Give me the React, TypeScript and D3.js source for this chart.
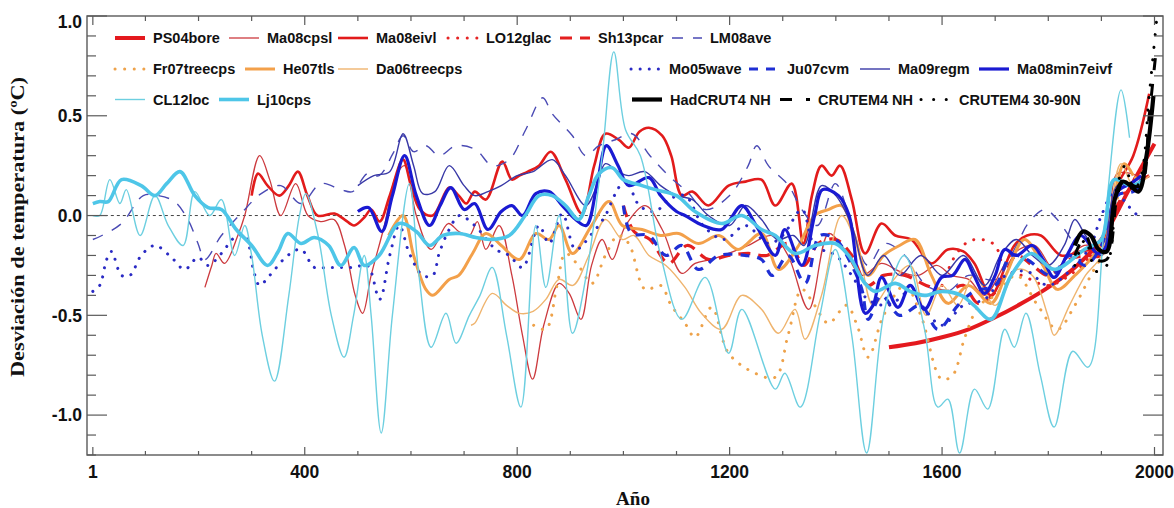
import * as d3 from "d3";

type Pt = [number, number];

// year, temperature anomaly (ºC)
const PS04bore: Pt[] = [
  [1500, -0.66], [1550, -0.64], [1600, -0.61], [1650, -0.57], [1700, -0.51], [1750, -0.44],
  [1800, -0.36], [1850, -0.26], [1900, -0.12], [1950, 0.12], [2000, 0.36],
];

const Ma08cpsl: Pt[] = [
  [212, -0.36], [225, -0.25], [233, -0.19], [249, -0.24], [274, -0.1], [287, 0.0], [315, 0.3],
  [334, 0.18], [355, 0.0], [383, 0.16], [406, 0.0], [430, -0.03], [455, -0.02], [475, -0.15],
  [495, -0.4], [509, -0.49], [525, -0.3], [550, -0.05], [572, 0.2], [588, 0.25], [610, 0.0],
  [638, -0.17], [670, -0.04], [690, -0.08], [710, -0.1], [725, -0.03], [741, -0.17], [766, -0.05],
  [790, -0.3], [810, -0.6], [829, -0.82], [850, -0.55], [879, -0.34], [898, -0.39], [920, -0.52],
  [940, -0.25], [960, -0.12], [979, -0.22], [1004, -0.05], [1041, 0.05], [1073, -0.07],
  [1110, -0.29], [1135, -0.24], [1165, -0.22], [1198, -0.19], [1235, -0.15], [1280, -0.1],
  [1310, -0.2], [1349, -0.47], [1386, -0.09], [1411, -0.15], [1449, -0.3], [1486, -0.24],
  [1520, -0.28], [1555, -0.3], [1590, -0.25], [1618, -0.3], [1650, -0.32], [1680, -0.4],
  [1730, -0.2], [1774, -0.15], [1811, -0.27], [1840, -0.2], [1868, -0.15], [1906, -0.15],
  [1930, 0.21], [1968, 0.2],
];

const Ma08eivl: Pt[] = [
  [300, 0.1], [312, 0.21], [330, 0.15], [352, 0.1], [370, 0.15], [387, 0.22], [405, 0.1],
  [424, 0.0], [456, 0.01], [475, -0.02], [493, -0.05], [512, -0.01], [525, 0.03], [541, -0.03],
  [560, 0.1], [585, 0.28], [600, 0.15], [617, 0.03], [641, 0.0], [672, 0.14], [690, 0.1],
  [704, 0.06], [720, 0.12], [741, 0.08], [772, 0.27], [790, 0.18], [804, 0.2], [820, 0.22],
  [841, 0.25], [863, 0.32], [891, 0.18], [922, 0.01], [945, 0.25], [966, 0.41], [991, 0.38],
  [1010, 0.34], [1030, 0.42], [1048, 0.44], [1073, 0.4], [1090, 0.3], [1110, 0.1], [1130, 0.12],
  [1160, 0.05], [1198, 0.15], [1230, 0.17], [1260, 0.18], [1286, 0.05], [1317, 0.16],
  [1339, -0.14], [1355, 0.1], [1373, 0.25], [1392, 0.2], [1408, 0.25], [1430, 0.08],
  [1455, -0.19], [1486, -0.04], [1512, -0.1], [1542, -0.12], [1580, -0.24], [1611, -0.17],
  [1640, -0.18], [1661, -0.24], [1692, -0.4], [1736, -0.15], [1760, -0.1], [1786, -0.1],
  [1824, -0.2], [1860, -0.18], [1899, -0.15], [1930, 0.15], [1960, 0.3], [1990, 0.61],
];

const LO12glac: Pt[] = [
  [1600, -0.35], [1625, -0.2], [1650, -0.13], [1675, -0.12], [1700, -0.15], [1720, -0.28],
  [1750, -0.3], [1800, -0.35], [1850, -0.28], [1880, -0.2], [1910, -0.1], [1940, 0.1],
  [1970, 0.2], [1990, 0.25],
];

const Sh13pcar: Pt[] = [
  [1000, 0.05], [1020, -0.08], [1050, -0.12], [1085, -0.24], [1120, -0.15], [1160, -0.22],
  [1198, -0.2], [1235, -0.19], [1270, -0.2], [1311, -0.14], [1340, -0.25], [1367, -0.14],
  [1400, -0.12], [1430, -0.2], [1460, -0.35], [1490, -0.3], [1530, -0.3], [1570, -0.35],
  [1610, -0.38], [1640, -0.35], [1668, -0.44], [1705, -0.37], [1740, -0.2], [1770, -0.25],
  [1800, -0.3], [1840, -0.22], [1870, -0.2], [1900, -0.2], [1930, 0.05], [1960, 0.15],
  [1990, 0.2],
];

const LM08ave: Pt[] = [
  [1, -0.12], [18, -0.1], [55, -0.04], [96, 0.1], [124, 0.1], [155, 0.07], [180, -0.02],
  [199, -0.14], [212, -0.22], [243, -0.1], [280, 0.01], [318, 0.11], [355, 0.15], [393, 0.06],
  [430, 0.16], [468, 0.13], [490, 0.12], [518, 0.21], [540, 0.2], [566, 0.31], [585, 0.4],
  [605, 0.32], [628, 0.35], [653, 0.3], [685, 0.35], [722, 0.33], [753, 0.25], [785, 0.28],
  [816, 0.43], [848, 0.59], [866, 0.51], [904, 0.4], [929, 0.3], [954, 0.35], [985, 0.38],
  [1016, 0.41], [1050, 0.3], [1085, 0.2], [1120, 0.12], [1154, 0.03], [1200, 0.1], [1235, 0.25],
  [1251, 0.35], [1273, 0.25], [1311, 0.15], [1336, 0.03], [1365, -0.05], [1399, 0.16],
  [1425, 0.0], [1460, -0.25], [1492, -0.14], [1530, -0.2], [1570, -0.35], [1610, -0.38],
  [1650, -0.3], [1700, -0.32], [1740, -0.15], [1762, -0.04], [1793, 0.03], [1817, -0.02],
  [1850, -0.15],
];

const Fr07treecps: Pt[] = [
  [831, -0.55], [854, -0.57], [875, -0.35], [891, -0.19], [915, -0.25], [941, -0.34],
  [966, -0.2], [990, -0.1], [1010, -0.14], [1041, -0.37], [1070, -0.35], [1090, -0.45],
  [1116, -0.54], [1135, -0.61], [1166, -0.46], [1198, -0.69], [1248, -0.79], [1286, -0.81],
  [1310, -0.6], [1336, -0.37], [1360, -0.45], [1386, -0.54], [1420, -0.45], [1440, -0.55],
  [1461, -0.71], [1490, -0.5], [1530, -0.35], [1560, -0.5], [1599, -0.82], [1620, -0.8],
  [1643, -0.61], [1670, -0.45], [1700, -0.4], [1740, -0.3], [1780, -0.45], [1817, -0.57],
  [1850, -0.45], [1880, -0.3], [1910, -0.15], [1940, 0.15], [1970, 0.2], [1990, 0.25],
];

const He07tls: Pt[] = [
  [558, -0.1], [585, 0.0], [605, -0.2], [628, -0.37], [641, -0.4], [672, -0.32], [690, -0.3],
  [716, -0.19], [741, -0.09], [770, -0.15], [804, -0.22], [835, -0.09], [860, -0.12],
  [879, -0.05], [904, -0.19], [940, -0.05], [973, 0.07], [998, -0.05], [1035, -0.07],
  [1070, -0.1], [1104, -0.09], [1141, -0.14], [1180, -0.1], [1216, -0.17], [1260, -0.09],
  [1292, -0.27], [1330, -0.15], [1360, 0.0], [1386, 0.03], [1411, 0.05], [1435, -0.1],
  [1461, -0.3], [1490, -0.2], [1520, -0.15], [1549, -0.12], [1580, -0.3], [1611, -0.44],
  [1650, -0.35], [1692, -0.44], [1720, -0.3], [1755, -0.12], [1790, -0.25], [1817, -0.37],
  [1850, -0.3], [1893, -0.17], [1920, 0.05], [1943, 0.26], [1960, 0.2],
];

const Da06treecps: Pt[] = [
  [713, -0.55], [720, -0.54], [753, -0.39], [780, -0.45], [804, -0.49], [830, -0.48],
  [854, -0.42], [879, -0.32], [905, -0.35], [935, -0.2], [966, -0.02], [998, -0.12],
  [1020, -0.1], [1048, -0.2], [1080, -0.25], [1116, -0.36], [1147, -0.49], [1185, -0.57],
  [1223, -0.4], [1260, -0.47], [1292, -0.59], [1323, -0.47], [1342, -0.62], [1373, -0.4],
  [1411, 0.0], [1442, -0.17], [1470, -0.45], [1500, -0.35], [1540, -0.25], [1570, -0.5],
  [1600, -0.35], [1630, -0.45], [1660, -0.3], [1700, -0.45], [1742, -0.27], [1770, -0.3],
  [1799, -0.5], [1811, -0.6], [1840, -0.45], [1870, -0.3], [1900, -0.2], [1937, 0.26],
  [1960, 0.15], [1990, 0.2],
];

const Mo05wave: Pt[] = [
  [1, -0.38], [14, -0.35], [27, -0.22], [36, -0.18], [55, -0.3], [71, -0.3], [92, -0.2],
  [118, -0.15], [149, -0.21], [174, -0.27], [199, -0.21], [218, -0.25], [243, -0.19],
  [268, -0.11], [287, -0.1], [305, -0.29], [315, -0.35], [334, -0.3], [368, -0.2], [393, -0.17],
  [418, -0.26], [443, -0.26], [468, -0.26], [493, -0.26], [518, -0.25], [541, -0.42],
  [560, -0.2], [578, -0.05], [597, -0.19], [622, -0.3], [641, -0.3], [653, -0.19], [672, -0.07],
  [691, 0.0], [720, -0.05], [760, -0.17], [785, -0.2], [810, -0.26], [841, -0.05], [860, -0.14],
  [885, 0.01], [910, -0.17], [941, -0.09], [966, 0.0], [985, 0.11], [1004, 0.18], [1030, 0.05],
  [1060, 0.02], [1085, 0.08], [1116, 0.1], [1150, -0.05], [1190, -0.12], [1230, -0.05],
  [1273, -0.14], [1300, -0.1], [1336, 0.03], [1360, -0.15], [1400, -0.2], [1430, -0.3],
  [1460, -0.42], [1500, -0.45], [1540, -0.38], [1570, -0.48], [1600, -0.55], [1640, -0.45],
  [1680, -0.42], [1720, -0.3], [1760, -0.28], [1800, -0.35], [1850, -0.25], [1880, -0.15],
  [1900, 0.0], [1925, 0.12], [1950, 0.05], [1975, -0.02],
];

const Ju07cvm: Pt[] = [
  [1000, 0.05], [1015, -0.09], [1048, -0.1], [1080, -0.2], [1110, -0.15], [1141, -0.27],
  [1180, -0.2], [1229, -0.2], [1260, -0.22], [1280, -0.3], [1310, -0.2], [1342, -0.34],
  [1370, -0.1], [1400, -0.12], [1430, -0.25], [1449, -0.37], [1461, -0.52], [1486, -0.4],
  [1520, -0.5], [1560, -0.45], [1592, -0.57], [1630, -0.45], [1660, -0.38], [1700, -0.35],
  [1730, -0.2], [1760, -0.22], [1805, -0.3], [1840, -0.2], [1870, -0.25], [1900, -0.15],
  [1930, 0.1], [1960, 0.12], [1980, 0.15],
];

const Ma09regm: Pt[] = [
  [500, 0.15], [530, 0.2], [560, 0.22], [585, 0.41], [605, 0.25], [622, 0.11], [645, 0.12],
  [672, 0.25], [700, 0.15], [720, 0.1], [745, 0.12], [770, 0.15], [800, 0.2], [830, 0.22],
  [866, 0.28], [891, 0.2], [929, 0.05], [950, 0.15], [966, 0.26], [990, 0.22], [1010, 0.2],
  [1040, 0.22], [1070, 0.15], [1100, 0.1], [1130, 0.08], [1160, 0.0], [1200, -0.05],
  [1230, 0.05], [1260, -0.02], [1290, -0.12], [1320, -0.1], [1340, -0.15], [1373, 0.15],
  [1400, 0.1], [1430, -0.05], [1460, -0.3], [1490, -0.2], [1520, -0.3], [1560, -0.2],
  [1600, -0.3], [1640, -0.2], [1680, -0.35], [1710, -0.2], [1740, -0.12], [1770, -0.2],
  [1800, -0.25], [1830, -0.15], [1850, -0.02], [1870, -0.1], [1900, -0.2], [1930, 0.15],
  [1960, 0.15], [1980, 0.2],
];

const Ma08min7eivf: Pt[] = [
  [500, 0.02], [520, 0.04], [545, -0.08], [565, 0.1], [588, 0.3], [610, 0.1], [635, -0.05],
  [655, 0.05], [675, 0.14], [700, 0.03], [720, 0.06], [745, -0.07], [770, 0.02], [790, 0.05],
  [810, 0.0], [835, 0.11], [860, 0.12], [885, 0.05], [910, -0.02], [930, -0.05], [950, 0.15],
  [968, 0.35], [990, 0.25], [1010, 0.15], [1048, 0.19], [1070, 0.1], [1100, 0.02], [1116, 0.0],
  [1150, -0.05], [1185, -0.07], [1223, 0.05], [1250, -0.05], [1286, -0.2], [1304, -0.07],
  [1336, -0.25], [1360, 0.0], [1375, 0.13], [1405, 0.1], [1425, 0.0], [1455, -0.49],
  [1470, -0.45], [1486, -0.31], [1517, -0.46], [1540, -0.35], [1567, -0.47], [1599, -0.31],
  [1620, -0.3], [1643, -0.22], [1660, -0.3], [1680, -0.39], [1700, -0.3], [1718, -0.17],
  [1740, -0.2], [1770, -0.15], [1790, -0.22], [1811, -0.31], [1835, -0.2], [1861, -0.1],
  [1893, -0.19], [1910, -0.15], [1930, 0.12], [1955, 0.16], [1975, 0.2],
];

const CL12loc: Pt[] = [
  [1, 0.0], [14, 0.0], [33, 0.18], [52, 0.06], [64, 0.13], [90, -0.1], [118, 0.1], [143, -0.05],
  [171, -0.15], [193, 0.12], [221, 0.0], [243, 0.08], [268, -0.2], [287, -0.05], [300, -0.2],
  [320, -0.6], [343, -0.83], [370, -0.4], [390, 0.0], [402, 0.11], [425, -0.1], [450, -0.5],
  [474, -0.71], [492, -0.5], [512, -0.2], [525, -0.5], [544, -1.09], [565, -0.5], [597, 0.16],
  [615, -0.3], [638, -0.66], [666, -0.49], [685, -0.64], [710, -0.5], [730, -0.4], [753, -0.26],
  [780, -0.6], [807, -0.96], [835, -0.05], [854, -0.36], [879, 0.0], [904, -0.59], [930, -0.3],
  [960, 0.3], [982, 0.82], [1004, 0.43], [1032, 0.3], [1070, -0.2], [1110, -0.52],
  [1154, -0.31], [1198, -0.69], [1223, -0.47], [1286, -0.87], [1304, -0.79], [1333, -0.96],
  [1370, -0.5], [1399, -0.17], [1430, -0.6], [1458, -1.19], [1492, -0.47], [1529, -0.2],
  [1567, -0.57], [1592, -0.96], [1611, -0.92], [1633, -1.19], [1661, -0.87], [1686, -0.97],
  [1718, -0.57], [1736, -0.66], [1758, -0.49], [1785, -0.8], [1811, -1.06], [1846, -0.68],
  [1875, -0.76], [1906, -0.04], [1937, 0.63], [1953, 0.39],
];

const Lj10cps: Pt[] = [
  [1, 0.06], [14, 0.07], [30, 0.07], [55, 0.18], [92, 0.15], [118, 0.1], [140, 0.16],
  [165, 0.22], [193, 0.1], [218, 0.04], [243, 0.03], [271, -0.07], [300, -0.15], [330, -0.25],
  [350, -0.18], [368, -0.09], [393, -0.14], [418, -0.11], [445, -0.15], [468, -0.25],
  [493, -0.16], [512, -0.25], [540, -0.2], [578, -0.04], [610, -0.08], [635, -0.15],
  [660, -0.1], [691, -0.09], [722, -0.11], [750, -0.12], [785, -0.1], [815, 0.0], [841, 0.1],
  [866, 0.1], [891, 0.05], [916, -0.02], [935, 0.1], [954, 0.21], [979, 0.24], [1000, 0.18],
  [1035, 0.15], [1060, 0.13], [1100, 0.1], [1135, 0.02], [1185, -0.04], [1223, 0.0],
  [1260, -0.07], [1286, -0.1], [1323, -0.19], [1361, -0.15], [1399, -0.14], [1424, -0.2],
  [1455, -0.34], [1474, -0.38], [1512, -0.34], [1540, -0.38], [1567, -0.4], [1600, -0.38],
  [1636, -0.4], [1660, -0.45], [1692, -0.52], [1730, -0.3], [1768, -0.19], [1811, -0.27],
  [1868, -0.17], [1900, -0.12], [1924, 0.18], [1955, 0.15], [1980, 0.18],
];

const HadCRUT4NH: Pt[] = [
  [1850, -0.15], [1865, -0.08], [1880, -0.1], [1895, -0.17], [1910, -0.18], [1925, 0.08],
  [1940, 0.17], [1955, 0.15], [1970, 0.12], [1985, 0.3], [1998, 0.6],
];

const CRUTEM4NH: Pt[] = [
  [1850, -0.2], [1870, -0.1], [1890, -0.22], [1910, -0.22], [1930, 0.1], [1945, 0.2],
  [1960, 0.15], [1975, 0.15], [1990, 0.5], [2002, 0.8],
];

const CRUTEM430_90N: Pt[] = [
  [1850, -0.25], [1870, -0.12], [1890, -0.28], [1910, -0.25], [1930, 0.15], [1945, 0.25],
  [1960, 0.12], [1975, 0.2], [1990, 0.6], [2004, 0.98],
];

const xTickLabels = [1, 400, 800, 1200, 1600, 2000];
const yTickLabels = [-1.0, -0.5, 0.0, 0.5, 1.0];

type Series = {
  name: string;
  data: Pt[];
  color: string;
  width: number;
  dash?: string;
  row: number;
  tx: number;
};

const DOT = (gap: number) => `0.1,${gap}`;

const series: Series[] = [
  { name: "PS04bore", data: PS04bore, color: "#e4191e", width: 4, row: 0, tx: 153 },
  { name: "Ma08cpsl", data: Ma08cpsl, color: "#cc3a3e", width: 1.3, row: 0, tx: 267 },
  { name: "Ma08eivl", data: Ma08eivl, color: "#e21b1b", width: 2.6, row: 0, tx: 376 },
  { name: "LO12glac", data: LO12glac, color: "#e52424", width: 3, dash: DOT(9.5), row: 0, tx: 486 },
  { name: "Sh13pcar", data: Sh13pcar, color: "#e41f1f", width: 3.2, dash: "12,8", row: 0, tx: 598 },
  { name: "LM08ave", data: LM08ave, color: "#4a4ab4", width: 1.4, dash: "11,10", row: 0, tx: 710 },
  { name: "Fr07treecps", data: Fr07treecps, color: "#eea24a", width: 3, dash: DOT(9.5), row: 1, tx: 153 },
  { name: "He07tls", data: He07tls, color: "#f3a04a", width: 3, row: 1, tx: 283 },
  { name: "Da06treecps", data: Da06treecps, color: "#efb46e", width: 1.4, row: 1, tx: 376 },
  { name: "Mo05wave", data: Mo05wave, color: "#2a2ac4", width: 3, dash: DOT(9), row: 1, tx: 669 },
  { name: "Ju07cvm", data: Ju07cvm, color: "#1f2fd4", width: 3.2, dash: "9,8", row: 1, tx: 787 },
  { name: "Ma09regm", data: Ma09regm, color: "#3838a6", width: 1.4, row: 1, tx: 898 },
  { name: "Ma08min7eivf", data: Ma08min7eivf, color: "#1a1ad2", width: 3.2, row: 1, tx: 1017 },
  { name: "CL12loc", data: CL12loc, color: "#6dcfe0", width: 1.4, row: 2, tx: 153 },
  { name: "Lj10cps", data: Lj10cps, color: "#4ec6e8", width: 3.6, row: 2, tx: 257 },
  { name: "HadCRUT4 NH", data: HadCRUT4NH, color: "#000000", width: 4.2, row: 2, tx: 670 },
  { name: "CRUTEM4 NH", data: CRUTEM4NH, color: "#000000", width: 3, dash: "12,14", row: 2, tx: 818 },
  { name: "CRUTEM4 30-90N", data: CRUTEM430_90N, color: "#000000", width: 3, dash: DOT(12.5), row: 2, tx: 959 },
];

const rowY = [38, 69, 99.5];
const sans = "'Liberation Sans', Arial, Helvetica, sans-serif";
const serif = "'Liberation Serif', 'Times New Roman', serif";
const axisColor = "#5a5a5a";

export default function App() {
  const x = d3.scaleLinear().domain([-10, 2016]).range([87, 1163]);
  const y = d3.scaleLinear().domain([-1.2, 1.0]).range([455, 16]);
  const [x0, x1] = x.range();
  const [y0, y1] = y.range();

  const line = d3
    .line<Pt>()
    .x((d) => x(d[0]))
    .y((d) => y(d[1]))
    .curve(d3.curveCatmullRom.alpha(0.5));

  const xMinor = d3.range(100, 2000, 100).filter((t) => t % 400 !== 0);
  const yTicks = d3.range(-12, 11).map((i) => i / 10);

  return (
    <div style={{ position: "absolute", left: 0, top: 0 }}>
      <svg width={1174} height={508} style={{ display: "block", background: "#fff" }}>
        <defs>
          <clipPath id="plot">
            <rect x={x0} y={y1} width={x1 - x0} height={y0 - y1} />
          </clipPath>
        </defs>

        {/* zero line */}
        <line x1={x(1)} x2={x1 - 3} y1={y(0)} y2={y(0)} stroke="#444" strokeWidth={1} strokeDasharray="3,3" />

        <g clipPath="url(#plot)" fill="none" strokeLinejoin="round">
          {series.map((s) => (
            <path
              key={s.name}
              d={line(s.data) ?? ""}
              stroke={s.color}
              strokeWidth={s.width}
              strokeDasharray={s.dash}
              strokeLinecap={s.dash && s.dash.startsWith("0.1") ? "round" : "butt"}
            />
          ))}
        </g>

        {/* frame */}
        <rect x={x0} y={y1} width={x1 - x0} height={y0 - y1} fill="none" stroke={axisColor} strokeWidth={1.4} />

        {/* x ticks */}
        {xMinor.map((t) => (
          <g key={"xm" + t} stroke={axisColor} strokeWidth={1.2}>
            <line x1={x(t)} x2={x(t)} y1={y0} y2={y0 - 4} />
            <line x1={x(t)} x2={x(t)} y1={y1} y2={y1 + 5} />
          </g>
        ))}
        {xTickLabels.map((t) => (
          <g key={"xM" + t}>
            <line x1={x(t)} x2={x(t)} y1={y0} y2={y0 - 8} stroke={axisColor} strokeWidth={1.2} />
            <line x1={x(t)} x2={x(t)} y1={y1} y2={y1 + 9} stroke={axisColor} strokeWidth={1.2} />
            <text x={x(t)} y={478} textAnchor="middle" fontFamily={sans} fontWeight="bold" fontSize={17.5} fill="#111">
              {t}
            </text>
          </g>
        ))}

        {/* y ticks */}
        {yTicks.map((t) => {
          const major = Math.abs(Math.round(t * 10)) % 5 === 0;
          const len = major ? 20 : 9;
          return (
            <g key={"y" + t} stroke={axisColor} strokeWidth={1.2}>
              <line x1={x0} x2={x0 + len} y1={y(t)} y2={y(t)} />
              <line x1={x1} x2={x1 - len} y1={y(t)} y2={y(t)} />
            </g>
          );
        })}
        {yTickLabels.map((t) => (
          <text
            key={"yl" + t}
            x={82}
            y={y(t) + (t === 1 ? 6 : 0)}
            dy="0.36em"
            textAnchor="end"
            fontFamily={sans}
            fontWeight="bold"
            fontSize={17.5}
            fill="#111"
          >
            {t.toFixed(1)}
          </text>
        ))}

        {/* axis titles */}
        <text x={633} y={505} textAnchor="middle" fontFamily={serif} fontWeight="bold" fontSize={19} fill="#111">
          Año
        </text>
        <text
          transform="translate(24,227) rotate(-90)"
          textAnchor="middle"
          fontFamily={serif}
          fontWeight="bold"
          fontSize={19}
          textLength={300}
          lengthAdjust="spacingAndGlyphs"
          fill="#111"
        >
          Desviación de temperatura (ºC)
        </text>

        {/* legend */}
        {series.map((s) => (
          <g key={"lg" + s.name}>
            <line
              x1={s.tx - 38}
              x2={s.tx - 8}
              y1={rowY[s.row]}
              y2={rowY[s.row]}
              stroke={s.color}
              strokeWidth={s.width}
              strokeDasharray={s.dash}
              strokeLinecap={s.dash && s.dash.startsWith("0.1") ? "round" : "butt"}
            />
            <text x={s.tx} y={rowY[s.row]} dy="0.36em" fontFamily={sans} fontWeight="bold" fontSize={14.5} fill="#111">
              {s.name}
            </text>
          </g>
        ))}
      </svg>
    </div>
  );
}
